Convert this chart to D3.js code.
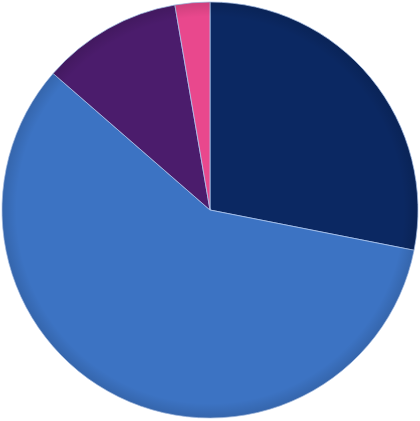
<!DOCTYPE html>
<html><head><meta charset="utf-8">
<script src="https://cdn.jsdelivr.net/npm/d3@7"></script>
<style>html,body{margin:0;padding:0;background:#fff;}svg{display:block;}</style>
</head><body>
<svg id="chart" width="420" height="421"></svg>
<script>
const categories = ["A", "B", "C", "D"];
const values = [28.1, 58.3, 10.9, 2.7];
const colors = ["#0b2862", "#3c73c3", "#4b1c6c", "#e9488d"];

const svg = d3.select("#chart");
const cx = 210, cy = 210, r = 208;
const g = svg.append("g").attr("transform", `translate(${cx},${cy})`);
const defs = svg.append("defs");
const rg = defs.append("radialGradient").attr("id", "shade").attr("cx", "50%").attr("cy", "50%").attr("r", "50%");
rg.append("stop").attr("offset", "93%").attr("stop-color", "#000").attr("stop-opacity", 0);
rg.append("stop").attr("offset", "100%").attr("stop-color", "#000").attr("stop-opacity", 0.12);

const pie = d3.pie().sort(null).value(d => d.v);
const arc = d3.arc().innerRadius(0).outerRadius(r);
const data = categories.map((c, i) => ({c, v: values[i], col: colors[i]}));
g.selectAll("path.slice").data(pie(data)).join("path")
  .attr("class", "slice")
  .attr("d", arc)
  .attr("fill", d => d.data.col)
  .attr("stroke", "rgba(170,195,235,0.8)")
  .attr("stroke-width", 1);
g.append("circle").attr("r", r).attr("fill", "url(#shade)").attr("pointer-events", "none");
</script>
</body></html>
